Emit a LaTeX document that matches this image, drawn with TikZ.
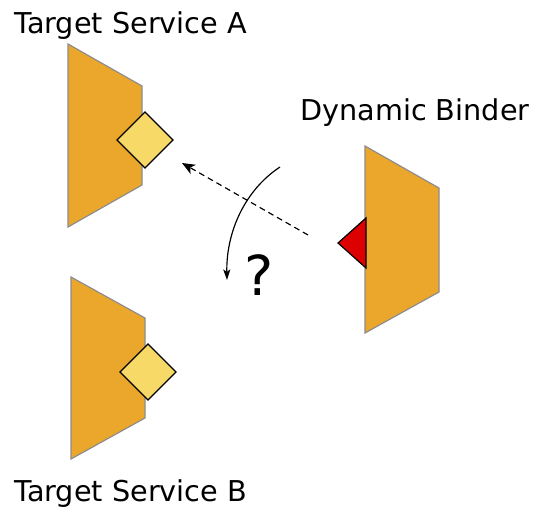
\documentclass[tikz,border=0pt]{standalone}
\usepackage{fontspec}
\setmainfont{DejaVu Sans}
\usetikzlibrary{arrows.meta}

\definecolor{svcorange}{RGB}{234,167,43}
\definecolor{svcgrey}{RGB}{140,140,140}
\definecolor{portyellow}{RGB}{246,217,103}
\definecolor{bindred}{RGB}{221,0,0}

\begin{document}
\begin{tikzpicture}[x=0.03cm, y=-0.03cm,
    service/.style={fill=svcorange, draw=svcgrey, line width=1pt},
    port/.style={fill=portyellow, draw=black, line width=1pt},
    plug/.style={fill=bindred, draw=black, line width=1pt},
    caption/.style={font=\fontsize{24.5}{28}\selectfont, inner sep=0pt}]
    \useasboundingbox (0,0) rectangle (548,527);

    % services and binder
    \draw[service] (68,44) -- (142,86) -- (142,185) -- (68,227) -- cycle;
    \draw[port] (117,140) -- (145,112) -- (173,140) -- (145,168) -- cycle;
    \draw[service] (71,277) -- (145,318) -- (145,418) -- (71,459) -- cycle;
    \draw[port] (120,372) -- (148,344) -- (176,372) -- (148,400) -- cycle;
    \draw[service] (365,146) -- (439,188) -- (439,292) -- (365,333) -- cycle;
    \draw[plug] (366,218) -- (338,243) -- (366,268) -- cycle;

    % labels
    \node[caption, anchor=base west] (svcA) at (14,33) {Target Service A};
    \node[caption, anchor=base west] (binder) at (300,120) {Dynamic Binder};
    \node[caption, anchor=base west] (svcB) at (14,501) {Target Service B};
    \node[font=\fontsize{47}{50}\selectfont, inner sep=0pt, anchor=base west] (ask) at (244,295) {?};

    % connectors
    \coordinate (dashStart) at (308,235);
    \coordinate (dashEnd) at (182,163);
    \coordinate (turnStart) at (280,167);
    \coordinate (turnEnd) at (227,280);
    \draw[-{Stealth[length=11pt, width=9pt, inset=3pt]}, dash pattern=on 5pt off 3.5pt, line width=1pt] (dashStart) -- (dashEnd);
    \draw[-{Stealth[length=9pt, width=6pt, inset=2pt]}, line width=1pt] (turnStart) .. controls (245,190) and (226,232) .. (turnEnd);
\end{tikzpicture}
\end{document}
